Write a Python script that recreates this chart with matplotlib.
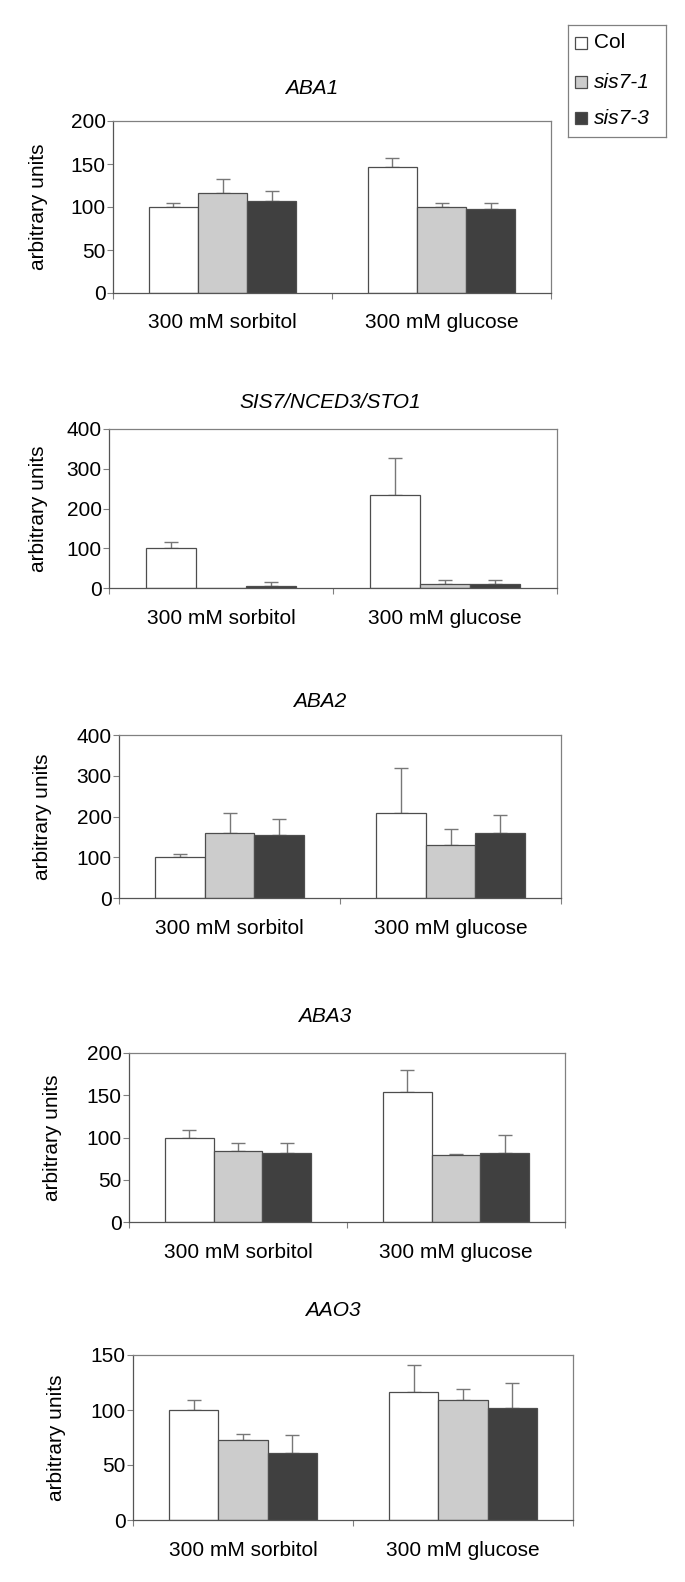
import matplotlib
matplotlib.use("Agg")
import matplotlib.pyplot as plt
import numpy as np

plt.rcParams['font.family'] = ['Liberation Sans', 'DejaVu Sans']

# ---- data ----
categories = ["300 mM sorbitol", "300 mM glucose"]
genotypes = ["Col", "sis7-1", "sis7-3"]
genotype_italic = [False, True, True]

titles = ["ABA1", "SIS7/NCED3/STO1", "ABA2", "ABA3", "AAO3"]
ymax = [200, 400, 400, 200, 150]
ystep = [50, 100, 100, 50, 50]

# each list: [sorbitol, glucose]
aba1_col = [100, 146]
aba1_s71 = [116, 100]
aba1_s73 = [107, 98]
aba1_err_col = [5, 11.5]
aba1_err_s71 = [16, 4.5]
aba1_err_s73 = [11.5, 7]

sis7_col = [100, 233]
sis7_s71 = [0.5, 10]
sis7_s73 = [6, 10]
sis7_err_col = [15, 93]
sis7_err_s71 = [0, 10]
sis7_err_s73 = [10, 10]

aba2_col = [101, 208]
aba2_s71 = [160, 131]
aba2_s73 = [155, 160]
aba2_err_col = [6, 110]
aba2_err_s71 = [48, 38]
aba2_err_s73 = [39, 44]

aba3_col = [100, 154]
aba3_s71 = [84, 79]
aba3_s73 = [82, 82]
aba3_err_col = [9, 25.5]
aba3_err_s71 = [9.5, 2]
aba3_err_s73 = [12, 21]

aao3_col = [100, 116]
aao3_s71 = [73, 109]
aao3_s73 = [61, 102]
aao3_err_col = [9.5, 25]
aao3_err_s71 = [5.5, 10.5]
aao3_err_s73 = [16, 23]

panel_values = [
    [aba1_col, aba1_s71, aba1_s73],
    [sis7_col, sis7_s71, sis7_s73],
    [aba2_col, aba2_s71, aba2_s73],
    [aba3_col, aba3_s71, aba3_s73],
    [aao3_col, aao3_s71, aao3_s73],
]
panel_errors = [
    [aba1_err_col, aba1_err_s71, aba1_err_s73],
    [sis7_err_col, sis7_err_s71, sis7_err_s73],
    [aba2_err_col, aba2_err_s71, aba2_err_s73],
    [aba3_err_col, aba3_err_s71, aba3_err_s73],
    [aao3_err_col, aao3_err_s71, aao3_err_s73],
]

# ---- styling / layout ----
W, H = 685, 1582
DPI = 100
bar_colors = ["#ffffff", "#cccccc", "#404040"]
edge_color = "#4d4d4d"
spine_color = "#808080"
err_color = "#777777"

# axes boxes in pixels: left, right, top, bottom
boxes = [
    (113, 551, 121, 293),
    (109, 557, 429, 588),
    (119, 561, 735, 898),
    (129, 565, 1053, 1222),
    (133, 573, 1355, 1520),
]
title_pos = [(312, 88), (330, 402), (320, 702), (325, 1016), (333, 1310)]
ylabel_x = [39, 38, 43, 52, 56]

FS = 15

fig = plt.figure(figsize=(W / DPI, H / DPI), dpi=DPI)
fig.patch.set_facecolor("white")

bar_w = 0.224
x_centers = np.array([0.5, 1.5])

for p in range(5):
    l, r, t, b = boxes[p]
    ax = fig.add_axes([l / W, 1 - b / H, (r - l) / W, (b - t) / H])
    for g in range(3):
        xs = x_centers + (g - 1) * bar_w
        vals = np.array(panel_values[p][g], dtype=float)
        errs = np.array(panel_errors[p][g], dtype=float)
        ax.bar(xs, vals, width=bar_w, color=bar_colors[g], edgecolor=edge_color,
               linewidth=0.9, zorder=2)
        mask = errs > 0
        if mask.any():
            ax.errorbar(xs[mask], vals[mask], yerr=[np.zeros(mask.sum()), errs[mask]],
                        fmt="none", ecolor=err_color, elinewidth=1.0, capsize=4.7,
                        capthick=1.0, zorder=1)
    ax.set_xlim(0, 2)
    ax.set_ylim(0, ymax[p])
    ax.set_yticks(np.arange(0, ymax[p] + 1, ystep[p]))
    ax.tick_params(axis="y", direction="out", length=4.3, width=0.8, color=spine_color,
                   labelsize=FS, pad=1)
    ax.set_xticks([0, 1, 2])
    ax.set_xticklabels([])
    ax.tick_params(axis="x", direction="out", length=4.3, width=0.8, color=spine_color)
    for sp in ax.spines.values():
        sp.set_color(spine_color)
        sp.set_linewidth(0.9)
    ax.spines["left"].set_color("#555555")
    ax.spines["bottom"].set_color("#555555")
    for c, xc in enumerate(x_centers):
        ax.annotate(categories[c], xy=(xc, 0), xycoords=("data", "axes fraction"),
                    xytext=(0, -30), textcoords="offset pixels",
                    ha="center", va="center", fontsize=FS)
    fig.text(ylabel_x[p] / W, 1 - ((t + b) / 2) / H, "arbitrary units", rotation=90,
             ha="center", va="center", fontsize=FS)
    tx, ty = title_pos[p]
    fig.text(tx / W, 1 - ty / H, titles[p], ha="center", va="center",
             fontsize=FS, style="italic")

# ---- legend ----
lax = fig.add_axes([568 / W, 1 - 137 / H, (666 - 568) / W, (137 - 25) / H])
lax.set_xlim(0, 98)
lax.set_ylim(112, 0)
lax.set_xticks([])
lax.set_yticks([])
for sp in lax.spines.values():
    sp.set_color(spine_color)
    sp.set_linewidth(0.9)
leg_y = [18, 57, 93]
for g in range(3):
    lax.add_patch(plt.Rectangle((7, leg_y[g] - 6), 12, 12, facecolor=bar_colors[g],
                                edgecolor=edge_color, linewidth=0.9))
    lax.text(26, leg_y[g], genotypes[g], ha="left", va="center", fontsize=FS,
             style="italic" if genotype_italic[g] else "normal")

fig.savefig("out.png", dpi=DPI, facecolor="white")
